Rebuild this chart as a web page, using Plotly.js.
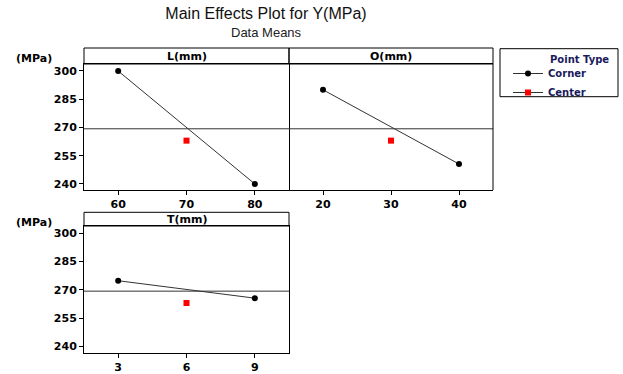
<!DOCTYPE html>
<html>
<head>
<meta charset="utf-8">
<script src="https://cdn.plot.ly/plotly-3.0.1.min.js"></script>
<style>html,body{margin:0;padding:0;background:#fff;}#chart{width:623px;height:374px;}</style>
</head>
<body>
<div id="chart"></div>
<script>
// ---- data ----
const lLevels = [60, 80];
const lCornerMeans = [300, 240];
const lCenter = [70];
const lCenterMean = [263];

const oLevels = [20, 40];
const oCornerMeans = [290, 250.6];
const oCenter = [30];
const oCenterMean = [263];

const tLevels = [3, 9];
const tCornerMeans = [274.8, 265.6];
const tCenter = [6];
const tCenterMean = [263.1];

const grandMean = 269.3;

const lTicks = [60, 70, 80];
const oTicks = [20, 30, 40];
const tTicks = [3, 6, 9];
const yTicks = [240, 255, 270, 285, 300];
const panelTitles = ["L(mm)", "O(mm)", "T(mm)"];

// ---- styles ----
const W = 623, H = 374;
const px = v => v / W;
const py = v => 1 - v / H;
const bold = {family: "DejaVu Sans", size: 11, color: "#000", weight: "bold"};
const lineStyle = {color: "#333", width: 1};
const cornerMarker = {symbol: "circle", size: 6, color: "#000"};
const centerMarker = {symbol: "square", size: 6, color: "#ff0000"};

function cornerTrace(x, y, xa, ya, show) {
  return {x: x, y: y, xaxis: xa, yaxis: ya, mode: "lines+markers", name: "Corner",
    legendgroup: "corner", showlegend: show, line: lineStyle, marker: cornerMarker, hoverinfo: "x+y"};
}
function centerTrace(x, y, xa, ya, show) {
  return {x: x, y: y, xaxis: xa, yaxis: ya, mode: "lines+markers", name: "Center",
    legendgroup: "center", showlegend: show, line: lineStyle, marker: centerMarker, hoverinfo: "x+y"};
}

const data = [
  cornerTrace(lLevels, lCornerMeans, "x", "y", true),
  centerTrace(lCenter, lCenterMean, "x", "y", true),
  cornerTrace(oLevels, oCornerMeans, "x2", "y2", false),
  centerTrace(oCenter, oCenterMean, "x2", "y2", false),
  cornerTrace(tLevels, tCornerMeans, "x3", "y3", false),
  centerTrace(tCenter, tCenterMean, "x3", "y3", false)
];

const yRange = [236.8, 303.7];
function xAxis(domain, range, ticks, anchor) {
  return {domain: domain, range: range, tickvals: ticks, anchor: anchor,
    showline: true, linecolor: "#000", linewidth: 1, mirror: true,
    ticks: "outside", ticklen: 4, tickcolor: "#000", tickfont: bold,
    showgrid: false, zeroline: false, fixedrange: true};
}
function yAxis(domain, anchor, labels) {
  return {domain: domain, range: yRange, tickvals: yTicks, anchor: anchor,
    showline: labels, linecolor: "#000", linewidth: 1, mirror: true,
    ticks: labels ? "outside" : "", ticklen: 4, tickcolor: "#000", tickfont: bold,
    showticklabels: labels, showgrid: false, zeroline: false, fixedrange: true};
}

const topDom = [py(190), py(64)];
const botDom = [py(352.7), py(226)];

const shapes = [];
const annotations = [];
const panels = [["x", "y", 16 / 126], ["x2", "y2", 16 / 126], ["x3", "y3", 13.7 / 126.7]];
panels.forEach((p, i) => {
  shapes.push({type: "rect", xref: p[0] + " domain", yref: p[1] + " domain",
    x0: 0, x1: 1, y0: 1, y1: 1 + p[2], line: {color: "#000", width: 1}, fillcolor: "rgba(0,0,0,0)"});
  shapes.push({type: "line", xref: p[0] + " domain", yref: p[1],
    x0: 0, x1: 1, y0: grandMean, y1: grandMean, line: {color: "#333", width: 1}});
  annotations.push({xref: p[0] + " domain", yref: p[1] + " domain", x: 0.5, y: 1 + p[2] / 2,
    text: panelTitles[i], showarrow: false, font: bold, xanchor: "center", yanchor: "middle"});
});
// right border of the second panel
shapes.push({type: "line", xref: "x2 domain", yref: "y2 domain", x0: 1, x1: 1, y0: 0, y1: 1,
  line: {color: "#000", width: 1}});

// legend frame
shapes.push({type: "rect", xref: "paper", yref: "paper", x0: px(500), x1: px(618), y0: py(48.7), y1: py(96.7),
  line: {color: "#000", width: 1}, fillcolor: "rgba(0,0,0,0)"});
annotations.push({xref: "paper", yref: "paper", x: px(548), y: py(59.7), xanchor: "left", yanchor: "middle",
  text: "Point Type", showarrow: false, font: {family: "DejaVu Sans", size: 10, color: "#1a1a5e", weight: "bold"}});

// y unit labels
annotations.push({xref: "paper", yref: "paper", x: px(14), y: py(59), xanchor: "left", yanchor: "middle",
  text: "(MPa)", showarrow: false, font: bold});
annotations.push({xref: "paper", yref: "paper", x: px(14), y: py(222.5), xanchor: "left", yanchor: "middle",
  text: "(MPa)", showarrow: false, font: bold});

// subtitle
annotations.push({xref: "paper", yref: "paper", x: px(266), y: py(32), xanchor: "center", yanchor: "middle",
  text: "Data Means", showarrow: false, font: {family: "Liberation Sans", size: 13, color: "#222"}});

const layout = {
  width: W, height: H,
  margin: {l: 0, r: 0, t: 0, b: 0},
  paper_bgcolor: "#fff", plot_bgcolor: "#fff",
  title: {text: "Main Effects Plot for Y(MPa)", x: px(266), xanchor: "center", xref: "paper",
    y: py(13), yanchor: "middle", yref: "paper",
    font: {family: "Liberation Sans", size: 16, color: "#111"}},
  showlegend: true,
  legend: {x: px(508), y: py(59), xanchor: "left", yanchor: "top", bgcolor: "rgba(0,0,0,0)",
    borderwidth: 0, font: {family: "DejaVu Sans", size: 10, color: "#1a1a5e", weight: "bold"},
    tracegroupgap: 0, traceorder: "normal"},
  xaxis: xAxis([px(84), px(289)], [55, 85], lTicks, "y"),
  yaxis: yAxis(topDom, "x", true),
  xaxis2: xAxis([px(289), px(493)], [15, 45], oTicks, "y2"),
  yaxis2: yAxis(topDom, "x2", false),
  xaxis3: xAxis([px(84), px(289)], [1.5, 10.5], tTicks, "y3"),
  yaxis3: yAxis(botDom, "x3", true),
  shapes: shapes,
  annotations: annotations
};

Plotly.newPlot("chart", data, layout, {displayModeBar: false, staticPlot: true});
</script>
</body>
</html>
